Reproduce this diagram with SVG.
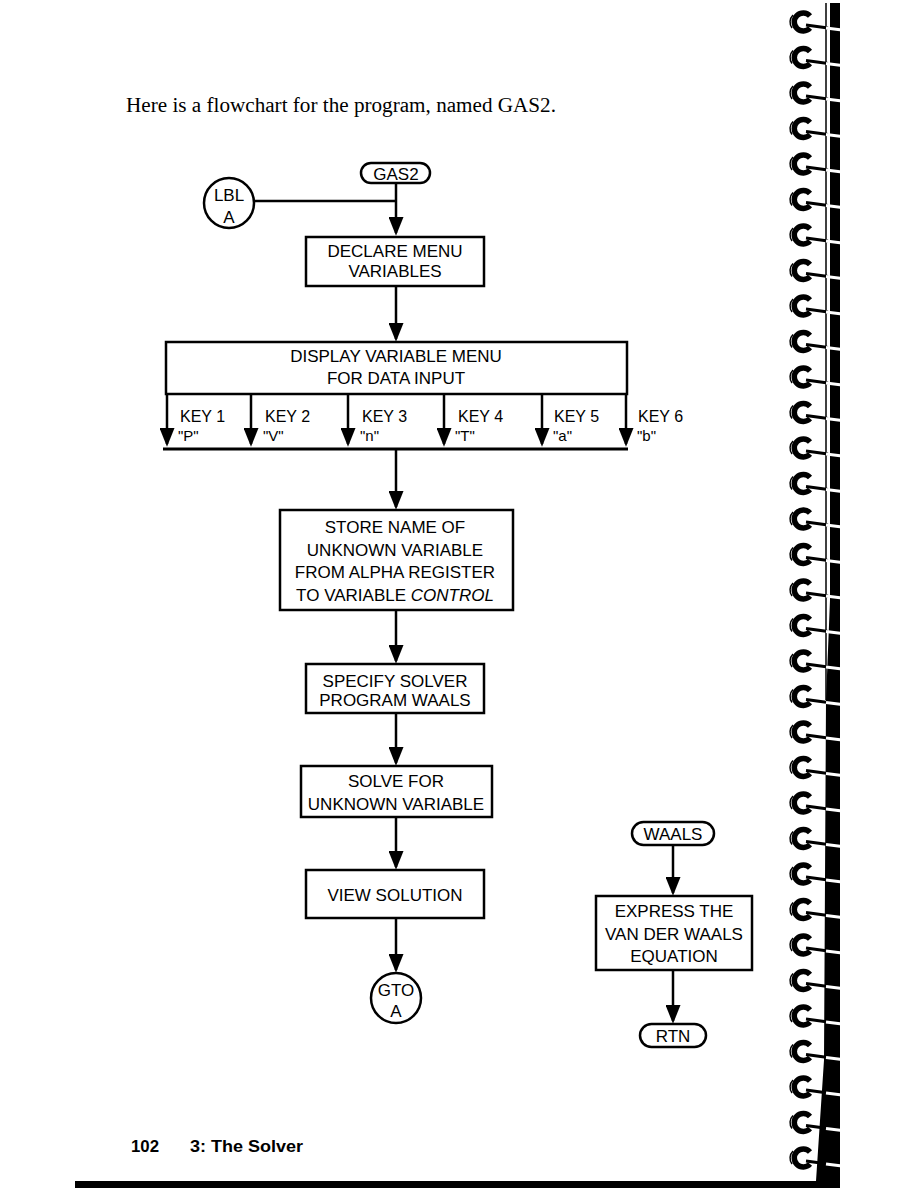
<svg xmlns="http://www.w3.org/2000/svg" xmlns:xlink="http://www.w3.org/1999/xlink" width="918" height="1188" viewBox="0 0 918 1188">
<style>
.t{font-family:"Liberation Sans",Arial,sans-serif;font-size:17px;text-anchor:middle;fill:#000}
.c{font-family:"Liberation Sans",Arial,sans-serif;font-size:17px;text-anchor:middle;fill:#000}
.p{font-family:"Liberation Sans",Arial,sans-serif;font-size:17px;text-anchor:middle;fill:#000}
.k{font-family:"Liberation Sans",Arial,sans-serif;font-size:16px;fill:#000}
.q{font-family:"Liberation Sans",Arial,sans-serif;font-size:15px;fill:#000}
.box{fill:#fff;stroke:#000;stroke-width:2.5}
.ln{fill:none;stroke:#000;stroke-width:2.5}
.ar{marker-end:url(#ah)}
.f{font-family:"Liberation Sans",Arial,sans-serif;font-size:16px;font-weight:bold;fill:#000}
</style>
<defs>
<marker id="ah" viewBox="0 0 20 16" refX="17" refY="8" markerWidth="20" markerHeight="15" markerUnits="userSpaceOnUse" orient="auto">
<path d="M0,0 L20,8 L0,16 Z" fill="#000"/>
</marker>
<g id="ring">
<path d="M810,-6 A9,9 0 1 0 810,6" fill="none" stroke="#000" stroke-width="5.5"/>
<path d="M793,-7 A10,10 0 0 0 792,6" fill="none" stroke="#000" stroke-width="1.5"/>
<path d="M806,3 L828,6" stroke="#000" stroke-width="3"/>
<path d="M826,6 L842,8" stroke="#fff" stroke-width="3"/>
</g>
</defs>
<rect width="918" height="1188" fill="#fff"/>

<text x="126" y="112" font-family="Liberation Serif,Times New Roman,serif" font-size="20" textLength="430" lengthAdjust="spacingAndGlyphs" fill="#000">Here is a flowchart for the program, named GAS2.</text>

<g id="connectors">
<path class="ln" d="M254,201 H396"/>
<path class="ln ar" d="M396,183 V233"/>
<path class="ln ar" d="M396,286 V339"/>
<path class="ln ar" d="M167,394 V444"/>
<path class="ln ar" d="M251,394 V444"/>
<path class="ln ar" d="M348,394 V444"/>
<path class="ln ar" d="M444,394 V444"/>
<path class="ln ar" d="M542,394 V444"/>
<path class="ln ar" d="M626,394 V444"/>
<path d="M163,449 H628" stroke="#000" stroke-width="3"/>
<path class="ln ar" d="M396,449 V507"/>
<path class="ln ar" d="M396,610 V661"/>
<path class="ln ar" d="M396,713 V763"/>
<path class="ln ar" d="M396,817 V867"/>
<path class="ln ar" d="M396,918 V970"/>
<path class="ln ar" d="M673,845 V893"/>
<path class="ln ar" d="M673,970 V1021"/>
</g>

<g id="gas2">
<rect class="box" x="361" y="163" width="69" height="20" rx="10"/>
<text class="p" x="396" y="179.5">GAS2</text>
</g>
<g id="lbl-a">
<circle class="box" cx="229" cy="203" r="25"/>
<text class="c" x="229" y="201">LBL</text>
<text class="c" x="229" y="223">A</text>
</g>
<g id="declare">
<rect class="box" x="306" y="237" width="178" height="49"/>
<text class="t" x="395" y="257">DECLARE MENU</text>
<text class="t" x="395" y="277">VARIABLES</text>
</g>
<g id="display">
<rect class="box" x="166" y="342" width="461" height="52"/>
<text class="t" x="396" y="362">DISPLAY VARIABLE MENU</text>
<text class="t" x="396" y="384">FOR DATA INPUT</text>
</g>
<g id="keys">
<text class="k" x="180" y="422">KEY 1</text>
<text class="q" x="178" y="441">"P"</text>
<text class="k" x="265" y="422">KEY 2</text>
<text class="q" x="263" y="441">"V"</text>
<text class="k" x="362" y="422">KEY 3</text>
<text class="q" x="360" y="441">"n"</text>
<text class="k" x="458" y="422">KEY 4</text>
<text class="q" x="455" y="441">"T"</text>
<text class="k" x="554" y="422">KEY 5</text>
<text class="q" x="553" y="441">"a"</text>
<text class="k" x="638" y="422">KEY 6</text>
<text class="q" x="637" y="441">"b"</text>
</g>
<g id="store">
<rect class="box" x="280" y="510" width="233" height="100"/>
<text class="t" x="395" y="533">STORE NAME OF</text>
<text class="t" x="395" y="556">UNKNOWN VARIABLE</text>
<text class="t" x="395" y="578">FROM ALPHA REGISTER</text>
<text class="t" x="395" y="601">TO VARIABLE <tspan font-style="italic">CONTROL</tspan></text>
</g>
<g id="specify">
<rect class="box" x="306" y="664" width="178" height="49"/>
<text class="t" x="395" y="687">SPECIFY SOLVER</text>
<text class="t" x="395" y="706">PROGRAM WAALS</text>
</g>
<g id="solve">
<rect class="box" x="301" y="766" width="191" height="51"/>
<text class="t" x="396" y="787">SOLVE FOR</text>
<text class="t" x="396" y="810">UNKNOWN VARIABLE</text>
</g>
<g id="view">
<rect class="box" x="306" y="870" width="178" height="48"/>
<text class="t" x="395" y="901">VIEW SOLUTION</text>
</g>
<g id="gto-a">
<circle class="box" cx="396" cy="998" r="25"/>
<text class="c" x="396" y="996">GTO</text>
<text class="c" x="396" y="1017">A</text>
</g>
<g id="waals">
<rect class="box" x="632" y="822" width="82" height="23" rx="11.5"/>
<text class="p" x="673" y="840">WAALS</text>
</g>
<g id="express">
<rect class="box" x="596" y="896" width="156" height="74"/>
<text class="t" x="674" y="917">EXPRESS THE</text>
<text class="t" x="674" y="940">VAN DER WAALS</text>
<text class="t" x="674" y="962">EQUATION</text>
</g>
<g id="rtn">
<rect class="box" x="640" y="1024" width="66" height="23" rx="11.5"/>
<text class="p" x="673" y="1042">RTN</text>
</g>

<g id="footer">
<text class="f" x="131" y="1152" textLength="28" lengthAdjust="spacingAndGlyphs">102</text>
<text class="f" x="190" y="1152" textLength="113" lengthAdjust="spacingAndGlyphs">3:  The Solver</text>
<rect x="75" y="1181" width="765" height="7" fill="#000"/>
</g>

<g id="binding">
<path d="M826,3 V700" stroke="#000" stroke-width="1.5"/>
<polygon points="830,3 840,3 840,1181 816,1181 824,1060 826,700 830,600" fill="#000"/>
<use xlink:href="#ring" y="22"/>
<use xlink:href="#ring" y="57.5"/>
<use xlink:href="#ring" y="93"/>
<use xlink:href="#ring" y="128.5"/>
<use xlink:href="#ring" y="164"/>
<use xlink:href="#ring" y="199.5"/>
<use xlink:href="#ring" y="235"/>
<use xlink:href="#ring" y="270.5"/>
<use xlink:href="#ring" y="306"/>
<use xlink:href="#ring" y="341.5"/>
<use xlink:href="#ring" y="377"/>
<use xlink:href="#ring" y="412.5"/>
<use xlink:href="#ring" y="448"/>
<use xlink:href="#ring" y="483.5"/>
<use xlink:href="#ring" y="519"/>
<use xlink:href="#ring" y="554.5"/>
<use xlink:href="#ring" y="590"/>
<use xlink:href="#ring" y="625.5"/>
<use xlink:href="#ring" y="661"/>
<use xlink:href="#ring" y="696.5"/>
<use xlink:href="#ring" y="732"/>
<use xlink:href="#ring" y="767.5"/>
<use xlink:href="#ring" y="803"/>
<use xlink:href="#ring" y="838.5"/>
<use xlink:href="#ring" y="874"/>
<use xlink:href="#ring" y="909.5"/>
<use xlink:href="#ring" y="945"/>
<use xlink:href="#ring" y="980.5"/>
<use xlink:href="#ring" y="1016"/>
<use xlink:href="#ring" y="1051.5"/>
<use xlink:href="#ring" y="1087"/>
<use xlink:href="#ring" y="1122.5"/>
<use xlink:href="#ring" y="1158"/>
</g>
</svg>
